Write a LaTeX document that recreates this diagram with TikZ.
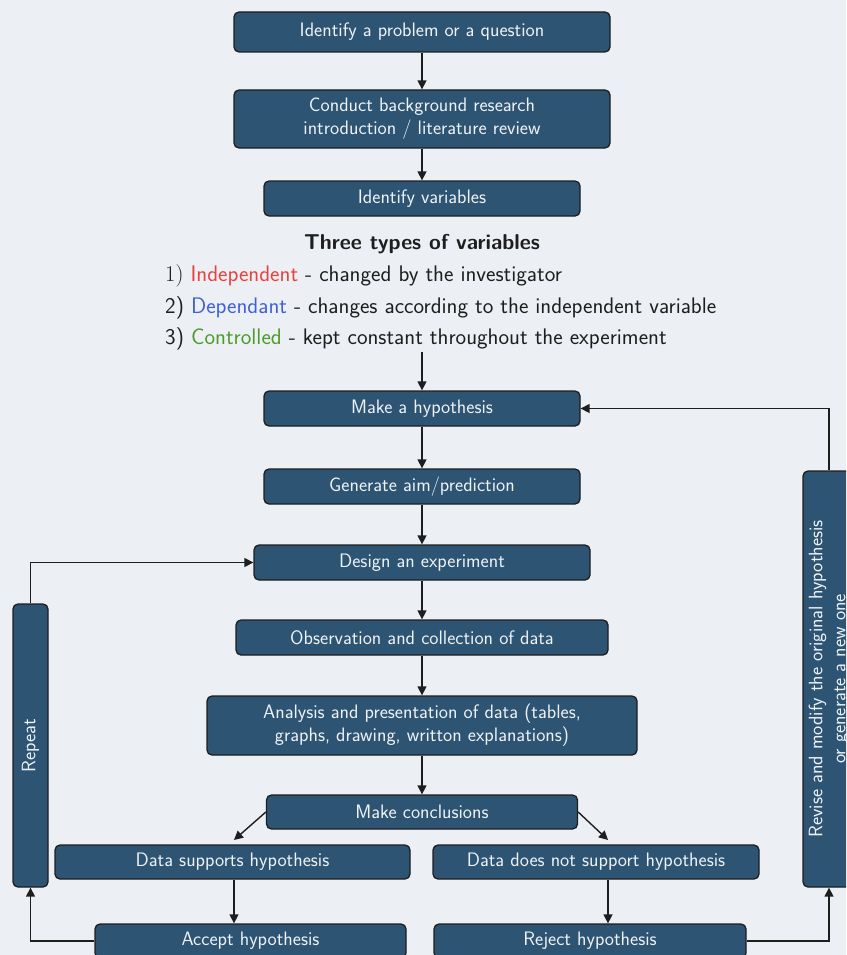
\documentclass[tikz,border=0pt]{standalone}
\usetikzlibrary{arrows.meta}
\definecolor{bg}{HTML}{ECF0F4}
\definecolor{boxfill}{HTML}{2D5473}
\definecolor{boxtext}{HTML}{EEF2F5}
\definecolor{indep}{HTML}{E8413F}
\definecolor{dep}{HTML}{4060D8}
\definecolor{ctrl}{HTML}{4E9A2C}
\definecolor{ink}{HTML}{1E1E1E}
\begin{document}
\begin{tikzpicture}[x=1pt,y=-1pt,
  box/.style={draw=ink, line width=1.3pt, fill=boxfill, rounded corners=5pt,
    text=boxtext, font=\sffamily\fontsize{19.5}{23}\selectfont, align=center, inner sep=0pt},
  vtext/.style={font=\sffamily\fontsize{22.5}{26}\selectfont, text=ink, inner sep=0pt, anchor=base west},
  arr/.style={-{Triangle[length=9pt,width=9pt]}, line width=1.4pt, draw=ink}]
\useasboundingbox (0,0) rectangle (846,955);
\clip (0,0) rectangle (846,955);
\fill[bg] (0,0) rectangle (846,955);

\node[box, minimum width=376, minimum height=40] (b1) at (422,32) {Identify a problem or a question};
\node[box, minimum width=376, minimum height=58] (b2) at (422,119) {Conduct background research\\introduction / literature review};
\node[box, minimum width=316, minimum height=35] (b3) at (422,198.5) {Identify variables};

\node[font=\sffamily\bfseries\fontsize{21.5}{25}\selectfont, text=ink, inner sep=0pt] (title) at (422,244) {Three types of variables};
\node[vtext] (v1) at (165,281) {{\rmfamily 1)} \textcolor{indep}{Independent} - changed by the investigator};
\node[vtext] (v2) at (165,313) {2) \textcolor{dep}{Dependant} - changes according to the independent variable};
\node[vtext] (v3) at (165,344) {3) \textcolor{ctrl}{Controlled} - kept constant throughout the experiment};
\coordinate (vend) at (422,352);

\node[box, minimum width=316, minimum height=35] (b4) at (422,408.5) {Make a hypothesis};
\node[box, minimum width=316, minimum height=35] (b5) at (422,486.5) {Generate aim/prediction};
\node[box, minimum width=336, minimum height=35] (b6) at (422,562.5) {Design an experiment};
\node[box, minimum width=372, minimum height=35] (b7) at (422,637.5) {Observation and collection of data};
\node[box, minimum width=430, minimum height=59] (b8) at (422,725.5) {Analysis and presentation of data (tables,\\graphs, drawing, writton explanations)};
\node[box, minimum width=311, minimum height=34] (b9) at (422,812) {Make conclusions};
\node[box, minimum width=355, minimum height=34] (b10) at (232.5,862) {Data supports hypothesis};
\node[box, minimum width=326, minimum height=34] (b11) at (596,862) {Data does not support hypothesis};
\node[box, minimum width=311, minimum height=34] (b12) at (250.5,941) {Accept hypothesis};
\node[box, minimum width=312, minimum height=34] (b13) at (590,941) {Reject hypothesis};
\node[box, rotate=90, minimum width=283, minimum height=35] (rep) at (30.5,745.5) {Repeat};
\node[box, rotate=90, minimum width=416, minimum height=52] (rev) at (829,679) {Revise and modify the original hypothesis\\or generate a new one};

\coordinate (sL) at (234,840);
\coordinate (sR) at (608,840);

\draw[arr] (b1) -- (b2);
\draw[arr] (b2) -- (b3);
\draw[arr] (vend) -- (b4.north);
\draw[arr] (b4) -- (b5);
\draw[arr] (b5) -- (b6);
\draw[arr] (b6) -- (b7);
\draw[arr] (b7) -- (b8);
\draw[arr] (b8) -- (b9);
\draw[arr] (b9.west) -- (sL);
\draw[arr] (b9.east) -- (sR);
\draw[arr] (sL |- b10.south) -- (sL |- b12.north);
\draw[arr] (sR |- b11.south) -- (sR |- b13.north);
\draw[arr] (b12.west) -| (rep.west);
\draw[arr] (rep.east) |- (b6.west);
\draw[arr] (b13.east) -| (rev.west);
\draw[arr] (rev.east) |- (b4.east);
\end{tikzpicture}
\end{document}
